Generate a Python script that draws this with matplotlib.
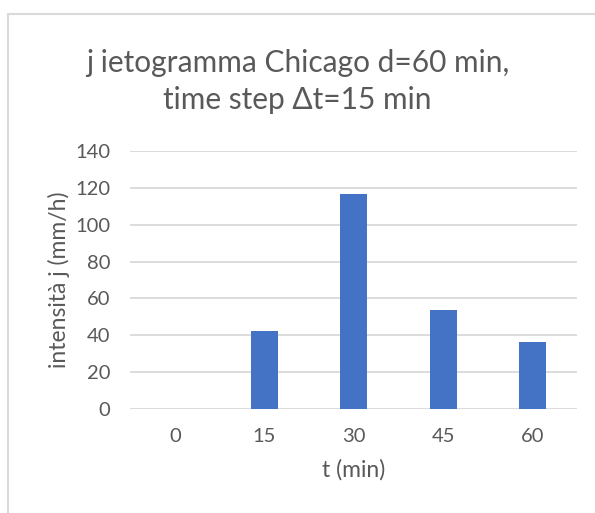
import matplotlib.pyplot as plt
from matplotlib.patches import Rectangle

# ietogramma Chicago, d = 60 min, dt = 15 min
t_labels = ['0', '15', '30', '45', '60']
intensity = [0.0, 42.1, 116.7, 53.8, 36.4]

plt.rcParams['font.family'] = ['Lato', 'DejaVu Sans']
grey = '#595959'

fig = plt.figure(figsize=(5.95, 5.13), dpi=100)
ax = fig.add_axes([0.2185, 0.2027, 0.752, 0.503])

x = range(len(t_labels))
ax.bar(x, intensity, width=0.3, color='#4472C4', zorder=3)

ax.set_xlim(-0.5, len(t_labels) - 0.5)
ax.set_ylim(0, 140)
ax.set_yticks(range(0, 141, 20))
ax.set_xticks(list(x))
ax.set_xticklabels(t_labels)
ax.yaxis.grid(True, color='#d9d9d9', linewidth=1.3, zorder=0)
ax.tick_params(length=0, labelsize=14.5, labelcolor=grey)
ax.tick_params(axis='y', pad=14)
ax.tick_params(axis='x', pad=14)
for s in ax.spines.values():
    s.set_visible(False)

ax.set_xlabel('t (min)', fontsize=16.5, color=grey, labelpad=10)
ax.set_ylabel('intensità j (mm/h)', fontsize=16.5, color=grey, labelpad=4)

fig.text(0.5, 0.877, 'j ietogramma Chicago d=60 min,', ha='center', va='center',
         fontsize=21.5, color=grey)
fig.text(0.5, 0.805, 'time step \u0394t=15 min', ha='center', va='center',
         fontsize=21.5, color=grey)

# chart frame (only top and left edges visible)
fig.patches.append(Rectangle((8 / 595, -0.1), 1.2, 1 - 14 / 513 + 0.1,
                             transform=fig.transFigure, fill=False,
                             edgecolor='#d9d9d9', linewidth=1.5))

fig.savefig('out.png', dpi=100)
